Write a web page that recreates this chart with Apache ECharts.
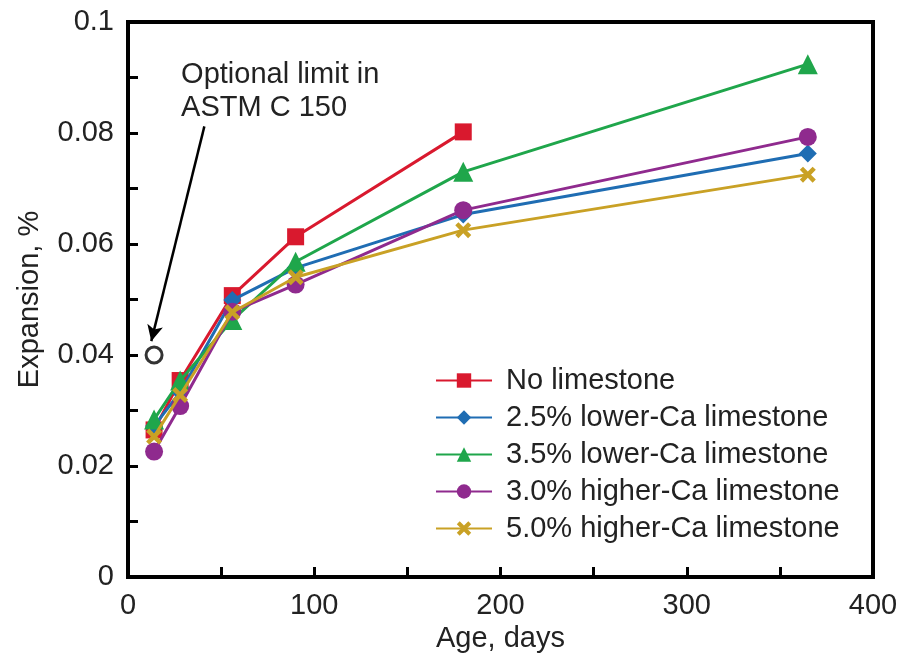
<!DOCTYPE html>
<html>
<head>
<meta charset="utf-8">
<script src="https://cdn.jsdelivr.net/npm/echarts@6/dist/echarts.min.js"></script>
<style>html,body{margin:0;padding:0;background:#fff;}#c{width:902px;height:663px;}</style>
</head>
<body>
<div id="c"></div>
<script>
const ages = [14, 28, 56, 90, 180, 365];
const seriesNames = ['No limestone', '2.5% lower-Ca limestone', '3.5% lower-Ca limestone', '3.0% higher-Ca limestone', '5.0% higher-Ca limestone'];
const noLimestone = [0.0265, 0.0354, 0.0507, 0.0613, 0.0802];
const lowerCa25 = [0.0272, 0.0333, 0.0499, 0.0557, 0.0653, 0.0763];
const lowerCa35 = [0.0284, 0.0354, 0.0463, 0.0568, 0.0730, 0.0924];
const higherCa30 = [0.0226, 0.0308, 0.0478, 0.0527, 0.0661, 0.0793];
const higherCa50 = [0.0253, 0.0328, 0.0477, 0.0540, 0.0625, 0.0725];
const limitAge = 14;
const limitValue = 0.040;
const annotationText = 'Optional limit in\nASTM C 150';
const arrowFrom = [41, 0.0812];
const arrowTo = [12.5, 0.0425];

const colors = ['#d9192e', '#1f6db3', '#1fa64b', '#8f2a8e', '#c9a125'];
const symbols = ['rect', 'diamond', 'triangle', 'circle',
  'path://M2,0 L5,3 L8,0 L10,2 L7,5 L10,8 L8,10 L5,7 L2,10 L0,8 L3,5 L0,2 Z'];
const sizes = [17, 18, 20, 18, 16];
const values = [noLimestone, lowerCa25, lowerCa35, higherCa30, higherCa50];

const font = 'Liberation Sans, Arial, sans-serif';
const txt = '#222';
const fs = 29;

const series = values.map((vals, i) => ({
  name: seriesNames[i],
  type: 'line',
  data: vals.map((v, j) => [ages[j], v]),
  symbol: symbols[i],
  symbolSize: sizes[i],
  showAllSymbol: true,
  lineStyle: { color: colors[i], width: 3 },
  itemStyle: { color: colors[i], borderWidth: 0 },
  z: 3 + i
}));

series.push({
  name: 'limit',
  type: 'scatter',
  data: [[limitAge, limitValue]],
  symbol: 'circle',
  symbolSize: 16,
  itemStyle: { color: '#fff', borderColor: '#000', borderWidth: 3 },
  z: 10,
  markLine: {
    silent: true,
    symbol: ['none', 'arrow'],
    symbolSize: [12, 16],
    label: { show: false },
    lineStyle: { color: '#000', width: 2.5, type: 'solid' },
    data: [[{ coord: arrowFrom }, { coord: arrowTo }]]
  }
});

const chart = echarts.init(document.getElementById('c'), null, { renderer: 'canvas' });
chart.setOption({
  animation: false,
  backgroundColor: '#fff',
  textStyle: { fontFamily: font },
  grid: { left: 128, right: 29, top: 22, bottom: 86, show: true, borderColor: '#000', borderWidth: 4, backgroundColor: 'transparent' },
  legend: {
    data: seriesNames,
    left: 435,
    top: 366,
    padding: 0,
    orient: 'vertical',
    itemWidth: 56,
    itemHeight: 18,
    itemGap: 8,
    textStyle: { fontFamily: font, fontSize: fs, color: txt, padding: [0, 0, 0, 9] }
  },
  xAxis: {
    type: 'value', min: 0, max: 400, interval: 100,
    name: 'Age, days', nameLocation: 'middle', nameGap: 47,
    nameTextStyle: { fontFamily: font, fontSize: fs, color: txt },
    axisLine: { lineStyle: { color: '#000', width: 4 } },
    axisTick: { inside: true, length: 10, lineStyle: { color: '#000', width: 3 } },
    minorTick: { show: true, splitNumber: 2, length: 10, lineStyle: { color: '#000', width: 3 } },
    splitLine: { show: false },
    axisLabel: { fontFamily: font, fontSize: fs, color: txt, margin: 14 }
  },
  yAxis: {
    type: 'value', min: 0, max: 0.1, interval: 0.02,
    name: 'Expansion, %', nameLocation: 'middle', nameGap: 84,
    nameTextStyle: { fontFamily: font, fontSize: fs, color: txt },
    axisLine: { lineStyle: { color: '#000', width: 4 } },
    axisTick: { inside: true, length: 10, lineStyle: { color: '#000', width: 3 } },
    minorTick: { show: true, splitNumber: 2, length: 10, lineStyle: { color: '#000', width: 3 } },
    splitLine: { show: false },
    axisLabel: { fontFamily: font, fontSize: fs, color: txt, margin: 14 }
  },
  series: series
});

// annotation text placed at data coordinates
const p = chart.convertToPixel({ gridIndex: 0 }, [28.5, 0.0935]);
chart.setOption({
  graphic: [{
    type: 'text', left: p[0], top: p[1],
    style: { text: annotationText, font: fs + 'px ' + font, fill: txt, lineHeight: 33 }
  }]
});
</script>
</body>
</html>
